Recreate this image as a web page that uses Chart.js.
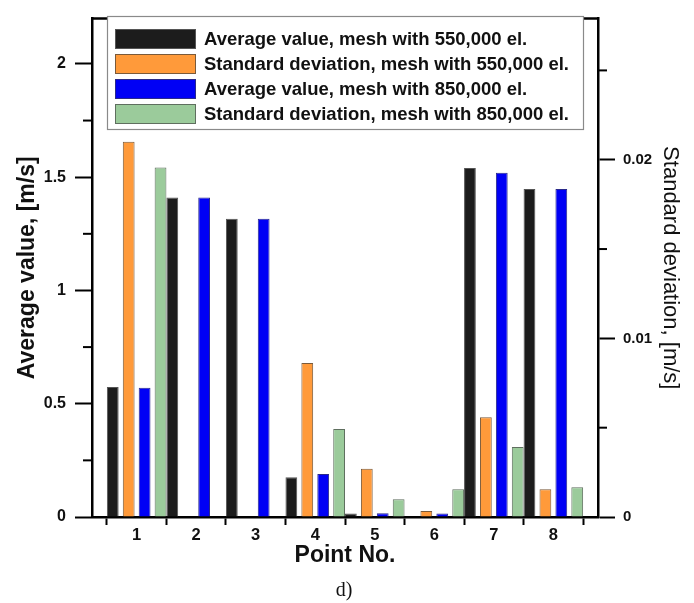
<!DOCTYPE html>
<html>
<head>
<meta charset="utf-8">
<script src="https://cdn.jsdelivr.net/npm/chart.js@4.4.1/dist/chart.umd.min.js"></script>
<style>
  html, body { margin: 0; padding: 0; background: #fff; }
  canvas { display: block; }
</style>
</head>
<body>
<canvas id="chart" width="694" height="603"></canvas>
<script>
// point numbers along the x axis
const points = ['1', '2', '3', '4', '5', '6', '7', '8'];
const pointPos = [1, 2, 3, 4, 5, 6, 7, 8];

// average values [m/s] (left axis)
const avg550 = [0.574, 1.41, 1.317, 0.175, 0.016, 0, 1.54, 1.448];
const avg850 = [0.571, 1.41, 1.317, 0.19, 0.017, 0.015, 1.52, 1.448];

// standard deviations [m/s] (right axis)
const std550 = [0.0210, 0, 0, 0.00862, 0.0027, 0.00033, 0.00558, 0.00155];
const std850 = [0.01956, 0, 0, 0.00492, 0.00099, 0.00155, 0.00392, 0.00166];

// minor tick positions
const minorLeft = [0.25, 0.75, 1.25, 1.75];
const minorRight = [0.005, 0.015, 0.025];

const labels = [
  'Average value, mesh with 550,000 el.',
  'Standard deviation, mesh with 550,000 el.',
  'Average value, mesh with 850,000 el.',
  'Standard deviation, mesh with 850,000 el.'
];

const toXY = arr => arr.map((v, i) => ({ x: pointPos[i], y: v }));

const FONT = "'Liberation Sans', Arial, sans-serif";

const frame = {
  id: 'frame',
  afterDatasetsDraw(chart) {
    const { ctx, chartArea: a, scales } = chart;
    ctx.save();
    // top border of the plot box
    ctx.strokeStyle = '#000';
    ctx.lineWidth = 2.5;
    ctx.beginPath();
    ctx.moveTo(a.left, a.top);
    ctx.lineTo(a.right, a.top);
    ctx.stroke();

    // minor ticks
    ctx.lineWidth = 2;
    minorLeft.forEach(v => {
      const y = scales.y.getPixelForValue(v);
      ctx.beginPath();
      ctx.moveTo(a.left - 9, y);
      ctx.lineTo(a.left, y);
      ctx.stroke();
    });
    minorRight.forEach(v => {
      const y = scales.y1.getPixelForValue(v);
      ctx.beginPath();
      ctx.moveTo(a.right, y);
      ctx.lineTo(a.right + 9, y);
      ctx.stroke();
    });

    // legend box
    const bx = 107, by = 16, bw = 476, bh = 113;
    ctx.fillStyle = '#fff';
    ctx.fillRect(bx, by, bw, bh);
    ctx.strokeStyle = '#8a8a8a';
    ctx.lineWidth = 1.2;
    ctx.strokeRect(bx + 0.5, by + 0.5, bw, bh);
    chart.data.datasets.forEach((ds, i) => {
      const sy = 29 + i * 25;
      ctx.fillStyle = ds.backgroundColor;
      ctx.fillRect(115, sy, 81, 20);
      ctx.strokeStyle = ds.borderColor;
      ctx.lineWidth = 1;
      ctx.strokeRect(115.5, sy + 0.5, 80, 19);
      ctx.fillStyle = '#111';
      ctx.font = 'bold 18.5px ' + FONT;
      ctx.textBaseline = 'middle';
      ctx.textAlign = 'left';
      ctx.fillText(ds.label, 204, sy + 11);
    });

    // caption
    ctx.fillStyle = '#111';
    ctx.font = "20px 'Liberation Serif', 'Times New Roman', serif";
    ctx.textAlign = 'center';
    ctx.textBaseline = 'middle';
    ctx.fillText('d)', 344, 591);
    ctx.restore();
  }
};

new Chart(document.getElementById('chart'), {
  type: 'bar',
  data: {
    datasets: [
      { label: labels[0], data: toXY(avg550), yAxisID: 'y',
        backgroundColor: '#1c1c1c', borderColor: '#555555' },
      { label: labels[1], data: toXY(std550), yAxisID: 'y1',
        backgroundColor: '#ff9a3a', borderColor: '#7a5a3a' },
      { label: labels[2], data: toXY(avg850), yAxisID: 'y',
        backgroundColor: '#0000f5', borderColor: '#2a2a8a' },
      { label: labels[3], data: toXY(std850), yAxisID: 'y1',
        backgroundColor: '#9bcb9b', borderColor: '#5f6f5f' }
    ]
  },
  options: {
    responsive: false,
    animation: false,
    devicePixelRatio: 1,
    layout: { padding: { top: 12, left: 0, right: 0, bottom: 0 } },
    datasets: {
      bar: { borderWidth: 1, categoryPercentage: 1.07, barPercentage: 0.74 }
    },
    plugins: {
      legend: { display: false },
      tooltip: { enabled: false }
    },
    scales: {
      x: {
        type: 'linear',
        offset: false,
        min: 0.25,
        max: 8.75,
        afterBuildTicks: s => { s.ticks = pointPos.map(v => ({ value: v })); },
        afterFit: s => { s.height = 86; },
        grid: {
          offset: true,
          drawOnChartArea: false,
          tickLength: 8,
          tickWidth: 2,
          tickColor: '#000'
        },
        border: { color: '#000', width: 2.5 },
        ticks: {
          padding: 1,
          color: '#111',
          font: { family: FONT, size: 16.5, weight: 'bold' },
          callback: (v, i) => points[i]
        },
        title: {
          display: true,
          text: 'Point No.',
          color: '#111',
          font: { family: FONT, size: 23, weight: 'bold' },
          padding: { top: 0, bottom: 34 }
        }
      },
      y: {
        position: 'left',
        min: 0,
        max: 2.2,
        afterFit: s => { s.width = 92; },
        grid: {
          drawOnChartArea: false,
          tickLength: 17,
          tickWidth: 2,
          tickColor: '#000'
        },
        border: { color: '#000', width: 2.5 },
        ticks: {
          stepSize: 0.5,
          includeBounds: false,
          padding: 9,
          color: '#111',
          font: { family: FONT, size: 16, weight: 'bold' },
          callback: v => String(v)
        },
        title: {
          display: true,
          text: 'Average value, [m/s]',
          color: '#111',
          font: { family: FONT, size: 23, weight: 'bold' },
          padding: { top: 14, bottom: 0 }
        }
      },
      y1: {
        position: 'right',
        min: 0,
        max: 0.0279,
        afterFit: s => { s.width = 96; },
        grid: {
          drawOnChartArea: false,
          tickLength: 17,
          tickWidth: 2,
          tickColor: '#000'
        },
        border: { color: '#000', width: 2.5 },
        ticks: {
          stepSize: 0.01,
          includeBounds: false,
          padding: 8,
          color: '#111',
          font: { family: FONT, size: 15, weight: 'bold' },
          callback: v => String(v)
        },
        title: {
          display: true,
          text: 'Standard deviation, [m/s]',
          color: '#111',
          font: { family: FONT, size: 22 },
          padding: { top: 11, bottom: 0 }
        }
      }
    }
  },
  plugins: [frame]
});
</script>
</body>
</html>
